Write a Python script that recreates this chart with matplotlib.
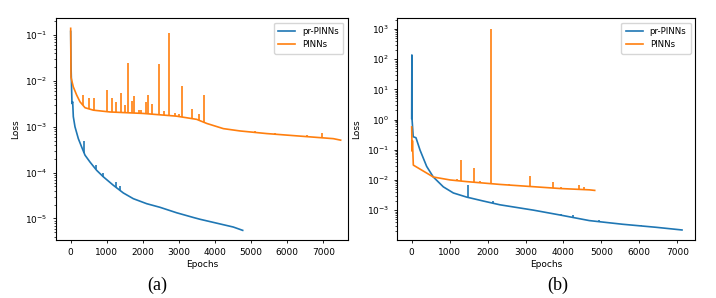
import matplotlib.pyplot as plt
import matplotlib.ticker as mticker
import numpy as np

# ---- (a) ----
a_pr_epochs = [0, 8, 36, 55, 73, 119, 212, 305, 397, 535, 720, 904, 1181, 1458, 1735, 2105, 2475, 2937,
               3399, 3583, 4506, 4766]
a_pr_loss = [0.12, 0.024, 0.0032, 0.0035, 0.00166, 0.001, 5.5e-4, 3.6e-4, 2.4e-4, 1.7e-4, 1.12e-4, 8.1e-5,
             5.3e-5, 3.6e-5, 2.7e-5, 2.1e-5, 1.75e-5, 1.33e-5, 1.05e-5, 9.6e-6, 6.5e-6, 5.5e-6]
a_pr_spike_epochs = [369, 701, 904, 1246, 1366]
a_pr_spike_loss = [4.9e-4, 1.5e-4, 1.0e-4, 6.3e-5, 5.1e-5]

a_pinn_epochs = [0, 8, 73, 166, 258, 397, 627, 1089, 2012, 2937, 3491, 3770, 4230, 4690, 5430, 7277, 7480]
a_pinn_loss = [0.14, 0.012, 0.0074, 0.0049, 0.0035, 0.0026, 0.0023, 0.0021, 0.00195, 0.0017, 0.00145,
               0.00118, 9.1e-4, 8.1e-4, 7.1e-4, 5.5e-4, 5.1e-4]
a_pinn_spike_epochs = [332, 516, 645, 1015, 1145, 1255, 1394, 1514, 1588, 1699, 1763, 1900, 1960, 2086, 2133,
                       2253, 2447, 2585, 2733, 2890, 3000, 3094, 3361, 3546, 3702, 5100, 5650, 6550, 6950]
a_pinn_spike_loss = [0.005, 0.0043, 0.0042, 0.0063, 0.0042, 0.0035, 0.0054, 0.003, 0.025, 0.0036, 0.0046,
                     0.0023, 0.0023, 0.0035, 0.005, 0.0031, 0.023, 0.0022, 0.11, 0.002, 0.0019, 0.0078,
                     0.0024, 0.0019, 0.005, 8.2e-4, 7.2e-4, 6.6e-4, 7.2e-4]

# ---- (b) ----
b_pr_epochs = [0, 5, 10, 40, 113, 219, 395, 570, 834, 1098, 1449, 1888, 2327, 3206, 3908, 4682, 5561, 6440, 7124]
b_pr_loss = [1.1, 138, 1.0, 0.27, 0.25, 0.098, 0.028, 0.0125, 0.0059, 0.0037, 0.0027, 0.002, 0.0015, 0.001,
             6.9e-4, 4.5e-4, 3.4e-4, 2.7e-4, 2.2e-4]
b_pr_spike_epochs = [1476, 2151, 3927, 4260, 4945, 5900, 6050]
b_pr_spike_loss = [0.0068, 0.002, 7.5e-4, 6.9e-4, 4.6e-4, 3.3e-4, 3.2e-4]

b_pinn_epochs = [0, 10, 20, 43, 570, 1010, 1449, 2327, 3908, 4682, 4823]
b_pinn_loss = [0.57, 0.09, 0.2, 0.031, 0.0125, 0.01, 0.0088, 0.0071, 0.0052, 0.0047, 0.0045]
b_pinn_spike_epochs = [1200, 1300, 1642, 1800, 2082, 2560, 3118, 3716, 3935, 4402, 4534]
b_pinn_spike_loss = [0.011, 0.045, 0.025, 0.009, 1000, 0.0075, 0.0135, 0.0087, 0.0058, 0.0066, 0.006]

blue = '#1f77b4'
orange = '#ff7f0e'

plt.rcParams.update({'font.size': 6.5, 'axes.linewidth': 0.8, 'xtick.major.size': 2.5,
                     'ytick.major.size': 2.5, 'ytick.minor.size': 1.5, 'xtick.major.width': 0.6,
                     'ytick.major.width': 0.6, 'ytick.minor.width': 0.5})


def draw(ax, ep1, l1, se1, sl1, ep2, l2, se2, sl2):
    for ep, l, se, sl, c, name in [(ep1, l1, se1, sl1, blue, 'pr-PINNs'), (ep2, l2, se2, sl2, orange, 'PINNs')]:
        ax.plot(ep, l, color=c, lw=1.2, label=name)
        # spikes start from the curve itself
        base = 10 ** np.interp(se, ep, np.log10(l))
        ax.vlines(se, base, sl, color=c, lw=1.2)
    ax.set_yscale('log')
    ax.yaxis.set_major_locator(mticker.LogLocator(base=10, numticks=20))
    ax.yaxis.set_minor_locator(mticker.LogLocator(base=10, subs=np.arange(2, 10), numticks=100))
    ax.yaxis.set_minor_formatter(mticker.NullFormatter())
    ax.set_xlabel('Epochs', labelpad=2)
    ax.set_ylabel('Loss')
    ax.set_xticks(range(0, 8000, 1000))
    ax.legend(loc='upper right', fontsize=6.2, handlelength=2.0, borderpad=0.5)


fig = plt.figure(figsize=(7.16, 2.98), dpi=100)
ax1 = fig.add_axes([0.0782, 0.1946, 0.4074, 0.744])
ax2 = fig.add_axes([0.5549, 0.1946, 0.4158, 0.744])

draw(ax1, a_pr_epochs, a_pr_loss, a_pr_spike_epochs, a_pr_spike_loss,
     a_pinn_epochs, a_pinn_loss, a_pinn_spike_epochs, a_pinn_spike_loss)
ax1.set_xlim(-407, 7675)
ax1.set_ylim(10 ** -5.47, 10 ** -0.635)

draw(ax2, b_pr_epochs, b_pr_loss, b_pr_spike_epochs, b_pr_spike_loss,
     b_pinn_epochs, b_pinn_loss, b_pinn_spike_epochs, b_pinn_spike_loss)
ax2.set_xlim(-379, 7467)
ax2.set_ylim(10 ** -3.99, 10 ** 3.355)

fig.text(0.219, 0.044, '(a)', ha='center', va='center', family='Liberation Serif', fontsize=13)
fig.text(0.779, 0.044, '(b)', ha='center', va='center', family='Liberation Serif', fontsize=13)

fig.savefig('out.png', dpi=100)
